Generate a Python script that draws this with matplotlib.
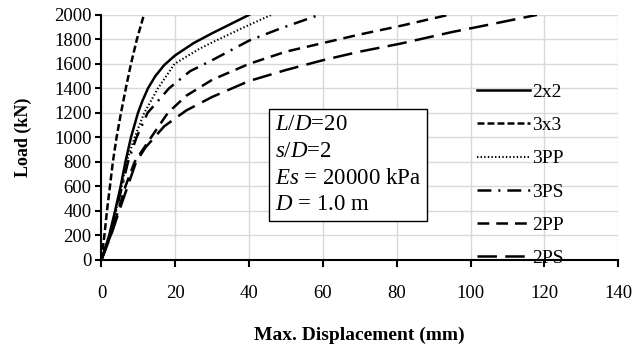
import matplotlib
matplotlib.use("Agg")
import matplotlib.pyplot as plt

plt.rcParams['font.family'] = ['Liberation Serif', 'DejaVu Serif']
plt.rcParams['mathtext.fontset'] = 'custom'
plt.rcParams['mathtext.rm'] = 'Liberation Serif'
plt.rcParams['mathtext.it'] = 'Liberation Serif:italic'
plt.rcParams['lines.scale_dashes'] = False

# load-displacement curves (x in mm, y in kN)
x_2x2 = [0, 2.1, 3.7, 5.2, 6.5, 8.0, 9.9, 11.0, 12.6, 14.6, 17.0, 20.0, 25.0, 30.0, 35.0, 40.0]
y_2x2 = [0, 200, 400, 600, 800, 1000, 1200, 1290, 1400, 1500, 1590, 1670, 1770, 1850, 1925, 2000]

x_3x3 = [0, 0.8, 1.5, 2.3, 3.1, 4.1, 5.3, 6.6, 8.0, 9.6, 11.5]
y_3x3 = [0, 200, 400, 600, 800, 1000, 1200, 1400, 1600, 1800, 2000]

x_3pp = [0, 2.2, 3.9, 5.5, 6.8, 9.0, 11.6, 15.3, 19.8, 26.6, 30.2, 38.0, 46.0]
y_3pp = [0, 200, 400, 600, 800, 1000, 1200, 1400, 1600, 1724, 1778, 1890, 2000]

x_3ps = [0, 2.2, 3.9, 5.6, 7.2, 9.5, 12.5, 18.3, 24.0, 30.0, 40.0, 48.4, 59.0]
y_3ps = [0, 200, 400, 600, 800, 1000, 1200, 1400, 1540, 1630, 1790, 1888, 2000]

x_2pp = [0, 2.5, 4.5, 6.5, 9.0, 13.0, 18.0, 23.0, 30.0, 40.0, 50.0, 60.0, 70.0, 81.0, 94.0]
y_2pp = [0, 200, 400, 600, 800, 980, 1200, 1340, 1470, 1600, 1700, 1770, 1840, 1910, 2000]

x_2ps = [0, 2.6, 4.8, 7.1, 9.4, 12.0, 17.0, 23.0, 30.0, 40.0, 50.0, 60.0, 70.0, 81.0, 95.0, 105.0, 118.0]
y_2ps = [0, 200, 400, 600, 800, 920, 1090, 1220, 1330, 1460, 1550, 1630, 1700, 1765, 1860, 1920, 2000]

fig = plt.figure(figsize=(6.34, 3.46), dpi=100)
ax = fig.add_axes([0.16, 0.249, 0.815, 0.708])

ax.plot(x_2x2, y_2x2, color='black', lw=1.8, label='2x2')
ax.plot(x_3x3, y_3x3, color='black', lw=1.8, dashes=(5, 2.2), label='3x3')
ax.plot(x_3pp, y_3pp, color='black', lw=1.5, dashes=(1, 1.6), label='3PP')
ax.plot(x_3ps, y_3ps, color='black', lw=1.8, dashes=(10, 5, 1.5, 5), label='3PS')
ax.plot(x_2pp, y_2pp, color='black', lw=1.8, dashes=(8.5, 5), label='2PP')
ax.plot(x_2ps, y_2ps, color='black', lw=1.8, dashes=(14, 6), label='2PS')

ax.set_xlim(0, 140)
ax.set_ylim(0, 2000)
ax.set_xticks(range(0, 141, 20))
ax.set_yticks(range(0, 2001, 200))
ax.grid(True, color='#d9d9d9', lw=1)
ax.set_axisbelow(True)
for s in ['top', 'right']:
    ax.spines[s].set_visible(False)
for s in ['left', 'bottom']:
    ax.spines[s].set_linewidth(1.5)
ax.tick_params(axis='x', direction='out', length=5, width=1.5, pad=13, labelsize=13.5)
ax.tick_params(axis='y', direction='out', length=4, width=1.5, pad=3, labelsize=13.5)

ax.set_xlabel('Max. Displacement (mm)', fontsize=14, fontweight='bold', labelpad=18)
ax.set_ylabel('Load (kN)', fontsize=13, fontweight='bold', labelpad=16)

ax.text(0.336, 0.594, "$L$/$D$=20\n$s$/$D$=2\n$Es$ = 20000 kPa\n$D$ = 1.0 m",
        transform=ax.transAxes, fontsize=16.5, va='top', ha='left', linespacing=1.35,
        bbox=dict(boxstyle='square,pad=0.25', fc='white', ec='black', lw=1))

leg = ax.legend(loc='upper left', bbox_to_anchor=(0.727, 0.72), frameon=False,
                fontsize=14, handlelength=2.7, handletextpad=0.15, labelspacing=0.8,
                borderaxespad=0, borderpad=0)

fig.savefig('out.png', dpi=100)
